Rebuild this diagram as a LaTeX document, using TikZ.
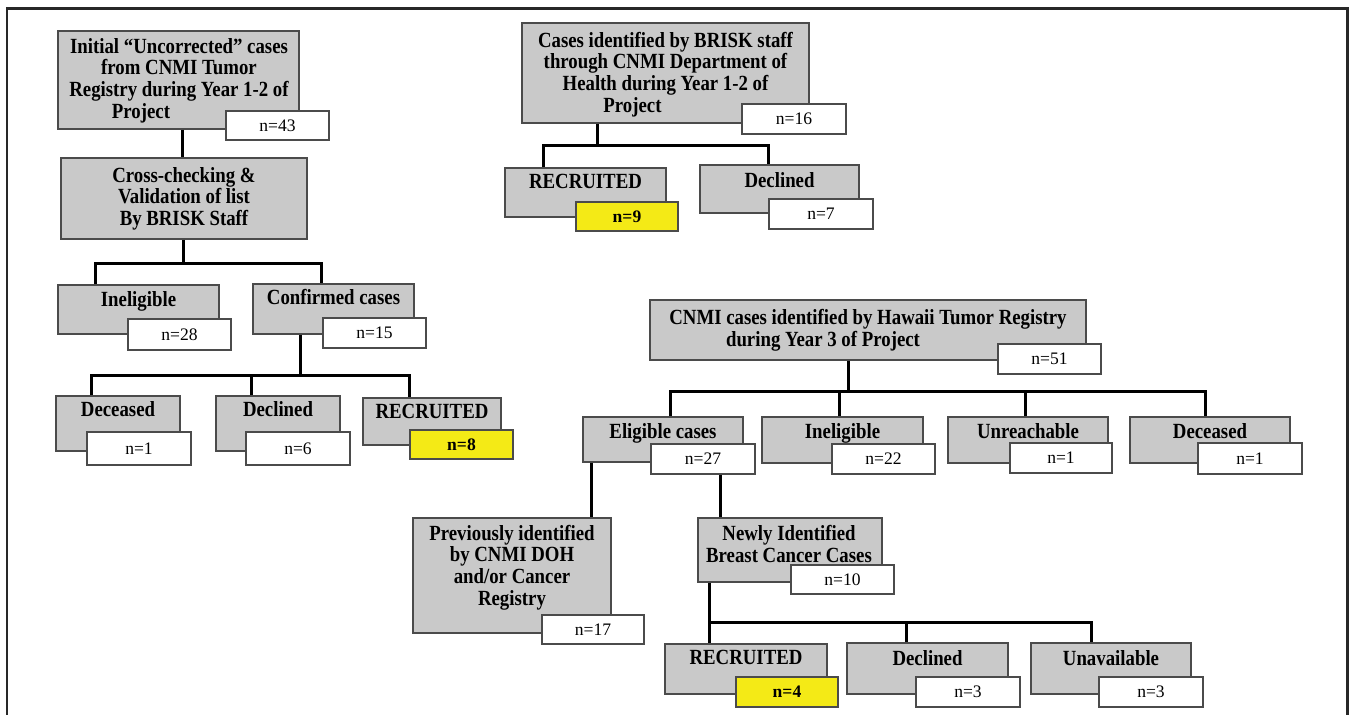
\documentclass[tikz,border=0pt]{standalone}
\usepackage{fontspec}
\setmainfont{Liberation Serif}
\newfontfamily\boxfont[FakeStretch=0.87]{Liberation Serif}
\usetikzlibrary{calc}

\definecolor{boxgray}{RGB}{201,201,201}
\definecolor{boxline}{RGB}{75,75,75}
\definecolor{hiyellow}{RGB}{244,234,22}
\definecolor{framegray}{RGB}{40,40,40}

\tikzset{
  sz/.style 2 args={minimum width=#1*0.02cm, minimum height=#2*0.02cm},
  graybox/.style={draw=boxline, fill=boxgray, line width=0.9pt, inner sep=0pt},
  numbox/.style={draw=boxline, fill=white, line width=0.9pt, inner sep=0pt,
    font=\fontsize{10}{11}\selectfont},
  hitbox/.style={numbox, fill=hiyellow, font=\fontsize{10}{11}\selectfont\bfseries},
  boxtext/.style={align=center, inner sep=0pt,
    font=\boxfont\bfseries\fontsize{12.3}{12.3}\selectfont},
  oneline/.style={boxtext, text height=0.7em, text depth=0.22em},
  link/.style={line width=1.6pt},
}

\begin{document}
\begin{tikzpicture}[x=0.02cm, y=-0.02cm]
  \useasboundingbox (0,0) rectangle (1351,715);

  %% frame
  \draw[framegray, line width=1.7pt] (7,715) -- (7,9) -- (1347,9) -- (1347,715);

  %% CNMI tumor registry, year 1-2
  \node[graybox, sz={241}{98}] (init) at (178.5,80) {};
  \node[boxtext] (initT) at (179,80.5) {Initial “Uncorrected” cases\\from CNMI Tumor\\Registry during Year 1-2 of\\Project\hspace*{1.52cm}};
  \node[numbox, sz={103}{29}] (n43) at (277.5,125.5) {n=43};

  \node[graybox, sz={246}{81}] (valid) at (184,198.5) {};
  \node[boxtext] (validT) at (184,198.5) {Cross-checking \&\\Validation of list\\By BRISK Staff};

  \node[graybox, sz={161}{49}] (inel1) at (138.5,309.5) {};
  \node[oneline] (inel1T) at (138.5,302) {Ineligible};
  \node[numbox, sz={103}{31}] (n28) at (179.5,334.5) {n=28};

  \node[graybox, sz={161}{50}] (conf) at (333.5,309) {};
  \node[oneline] (confT) at (333.5,300) {Confirmed cases};
  \node[numbox, sz={103}{30}] (n15) at (374.5,333) {n=15};

  \node[graybox, sz={124}{55}] (dec1) at (118,423.5) {};
  \node[oneline] (dec1T) at (118,412) {Deceased};
  \node[numbox, sz={104}{33}] (n1a) at (139,448.5) {n=1};

  \node[graybox, sz={124}{55}] (decl1) at (278,423.5) {};
  \node[oneline] (decl1T) at (278,412) {Declined};
  \node[numbox, sz={104}{33}] (n6) at (298,448.5) {n=6};

  \node[graybox, sz={138}{47}] (recr1) at (432,421.5) {};
  \node[oneline] (recr1T) at (432,414) {RECRUITED};
  \node[hitbox, sz={103}{29}] (n8) at (461.5,444.5) {n=8};

  \draw[link] ($(init.south west)+(125,0)$) -- ($(valid.north west)+(122,0)$);
  \draw[link] ($(valid.south west)+(123,0)$) -- ++(0,24) coordinate (bar1);
  \draw[link] ($(inel1.north west)+(38,0)$) |- (bar1) -| ($(conf.north west)+(69,0)$);
  \draw[link] ($(conf.south west)+(48,0)$) -- ++(0,41) coordinate (bar2);
  \draw[link] ($(dec1.north west)+(36,0)$) |- (bar2) -| ($(recr1.north west)+(47,0)$);
  \draw[link] ($(decl1.north west)+(36,0)$) -- ++(0,-21);

  %% CNMI department of health, year 1-2
  \node[graybox, sz={287}{100}] (cdoh) at (665.5,73) {};
  \node[boxtext] (cdohT) at (665.5,74.5) {Cases identified by BRISK staff\\through CNMI Department of\\Health during Year 1-2 of\\Project\hspace*{1.32cm}};
  \node[numbox, sz={104}{30}] (n16) at (794,119) {n=16};

  \node[graybox, sz={161}{49}] (recr2) at (585.5,192.5) {};
  \node[oneline] (recr2T) at (585.5,184) {RECRUITED};
  \node[hitbox, sz={102}{29}] (n9) at (627,216.5) {n=9};

  \node[graybox, sz={159}{48}] (decl2) at (779.5,189) {};
  \node[oneline] (decl2T) at (779.5,183) {Declined};
  \node[numbox, sz={104}{30}] (n7) at (821,214) {n=7};

  \draw[link] ($(cdoh.south west)+(76,0)$) -- ++(0,22) coordinate (bar3);
  \draw[link] ($(recr2.north west)+(39,0)$) |- (bar3) -| ($(decl2.north west)+(69,0)$);

  %% Hawaii tumor registry, year 3
  \node[graybox, sz={436}{60}] (hti) at (868,330) {};
  \node[boxtext] (htiT) at (868,330.5) {CNMI cases identified by Hawaii Tumor Registry\\during Year 3 of Project\hspace*{1.8cm}};
  \node[numbox, sz={103}{30}] (n51) at (1049.5,359) {n=51};

  \node[graybox, sz={160}{45}] (elig) at (663,439.5) {};
  \node[oneline] (eligT) at (663,434) {Eligible cases};
  \node[numbox, sz={104}{30}] (n27) at (703,459) {n=27};

  \node[graybox, sz={161}{46}] (inel2) at (842.5,440) {};
  \node[oneline] (inel2T) at (842.5,434) {Ineligible};
  \node[numbox, sz={103}{30}] (n22) at (883.5,459) {n=22};

  \node[graybox, sz={160}{46}] (unre) at (1028,440) {};
  \node[oneline] (unreT) at (1028,434) {Unreachable};
  \node[numbox, sz={102}{30}] (n1b) at (1061,458) {n=1};

  \node[graybox, sz={160}{46}] (dec2) at (1210,440) {};
  \node[oneline] (dec2T) at (1210,434) {Deceased};
  \node[numbox, sz={104}{31}] (n1c) at (1250,458.5) {n=1};

  \node[graybox, sz={198}{115}] (prev) at (512,575.5) {};
  \node[boxtext] (prevT) at (512,567.5) {Previously identified\\by CNMI DOH\\and/or Cancer\\Registry};
  \node[numbox, sz={102}{29}] (n17) at (593,629.5) {n=17};

  \node[graybox, sz={184}{64}] (newly) at (790,550) {};
  \node[boxtext] (newlyT) at (789,544) {Newly Identified\\Breast Cancer Cases};
  \node[numbox, sz={103}{29}] (n10) at (842.5,579.5) {n=10};

  \node[graybox, sz={162}{50}] (recr3) at (746,669) {};
  \node[oneline] (recr3T) at (746,660) {RECRUITED};
  \node[hitbox, sz={102}{30}] (n4) at (787,692) {n=4};

  \node[graybox, sz={161}{51}] (decl3) at (927.5,668.5) {};
  \node[oneline] (decl3T) at (927.5,661) {Declined};
  \node[numbox, sz={104}{30}] (n3a) at (968,692) {n=3};

  \node[graybox, sz={160}{51}] (unav) at (1111,668.5) {};
  \node[oneline] (unavT) at (1111,661) {Unavailable};
  \node[numbox, sz={104}{30}] (n3b) at (1151,692) {n=3};

  \draw[link] ($(hti.south west)+(199,0)$) -- ++(0,31) coordinate (bar4);
  \draw[link] ($(elig.north west)+(88,0)$) |- (bar4) -| ($(dec2.north west)+(76,0)$);
  \draw[link] ($(inel2.north west)+(78,0)$) -- ++(0,-26);
  \draw[link] ($(unre.north west)+(78,0)$) -- ++(0,-26);
  \draw[link] ($(elig.south west)+(9,0)$) -- ($(prev.north west)+(179,0)$);
  \draw[link] ($(n27.south west)+(70,0)$) -- ($(newly.north west)+(23,0)$);
  \draw[link] ($(newly.south west)+(12,0)$) -- ($(recr3.north west)+(45,0)$);
  \draw[link] ($(recr3.north west)+(45,-21)$) coordinate (bar5) -| ($(unav.north west)+(61,0)$);
  \draw[link] ($(decl3.north west)+(60,0)$) -- ++(0,-20);

\end{tikzpicture}
\end{document}
